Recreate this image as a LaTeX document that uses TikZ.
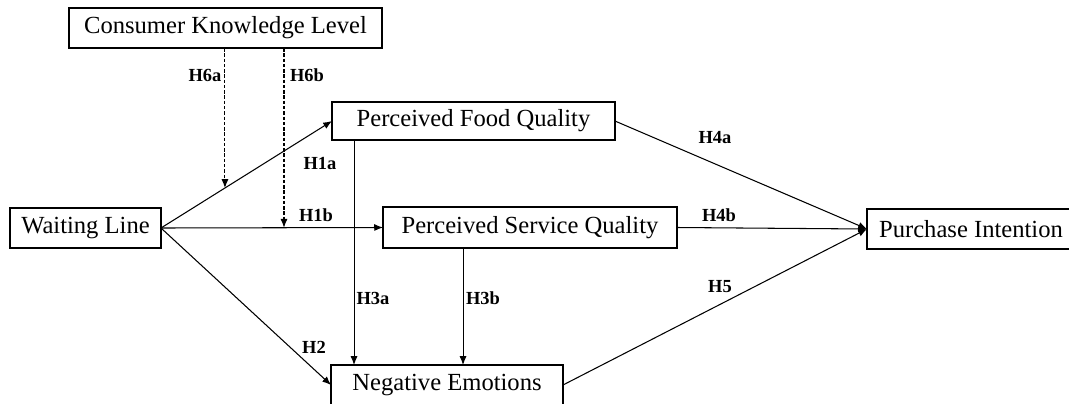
\documentclass[tikz,border=0pt]{standalone}
\usepackage{fontspec}
\setmainfont{Liberation Serif}
\usepackage{tikz}
\usetikzlibrary{arrows.meta,%
                shapes,positioning}

\begin{document}
\begin{tikzpicture}[x=0.02cm,y=-0.02cm]
\tikzset{BoxStyle/.style = {shape          = rectangle,
                             draw,
                             line width     = 1.4pt,
                             inner sep      = 2pt,
                             outer sep      = 0pt,
                             minimum height = 0.8cm,
                             font           = \fontsize{14}{16}\selectfont},
         HypStyle/.style = {inner sep = 0pt,
                             font      = \fontsize{10.5}{12}\selectfont\bfseries},
         EdgeStyle/.style = {line width = 0.6pt,
                             -{Latex[length=5pt,width=4pt]}}}
     \useasboundingbox (0,0) rectangle (1069,403);
     \node[BoxStyle,minimum width=6.26cm](CK) at (225.5,28){Consumer Knowledge Level};
     \node[BoxStyle,minimum width=3.02cm](WL) at (85.5,228){Waiting Line};
     \node[BoxStyle,minimum width=5.66cm,minimum height=0.76cm](FQ) at (473.5,121){Perceived Food Quality};
     \node[BoxStyle,minimum width=5.88cm,minimum height=0.82cm](SQ) at (530,227.5){Perceived Service Quality};
     \node[BoxStyle,minimum width=4.64cm](NE) at (447,385){Negative Emotions};
     \node[BoxStyle,minimum width=4.16cm](PI) at (971,229){Purchase Intention};
     %paths from the waiting line
     \draw[EdgeStyle](WL.east) -- coordinate[pos=0.374](M6a) (FQ.west);
     \draw[EdgeStyle](WL.east) -- coordinate[pos=0.554](M6b) (SQ.west);
     \draw[EdgeStyle](WL.east) -- (NE.west);
     \draw[EdgeStyle](FQ.south west) ++(22,0) coordinate (A3) -- (A3 |- NE.north);
     \draw[EdgeStyle](SQ.south west) ++(80,0) coordinate (B3) -- (B3 |- NE.north);
     \draw[EdgeStyle](FQ.east) -- (PI.west);
     \draw[EdgeStyle](SQ.east) -- (PI.west);
     \draw[EdgeStyle](NE.east) -- (PI.west);
     %moderation
     \draw[EdgeStyle,dash pattern=on 2pt off 1pt](CK.south -| M6a) -- (M6a);
     \draw[EdgeStyle,dash pattern=on 2pt off 1pt](CK.south -| M6b) -- (M6b);
     \node[HypStyle](H6a) at (205,75){H6a};
     \node[HypStyle](H6b) at (307,75){H6b};
     \node[HypStyle](H1a) at (320,163){H1a};
     \node[HypStyle](H1b) at (316,215){H1b};
     \node[HypStyle](H2) at (314,347){H2};
     \node[HypStyle](H3a) at (373,298){H3a};
     \node[HypStyle](H3b) at (483,298){H3b};
     \node[HypStyle](H4a) at (715,138){H4a};
     \node[HypStyle](H4b) at (719,215){H4b};
     \node[HypStyle](H5) at (720,287){H5};

  \end{tikzpicture}
\end{document}
